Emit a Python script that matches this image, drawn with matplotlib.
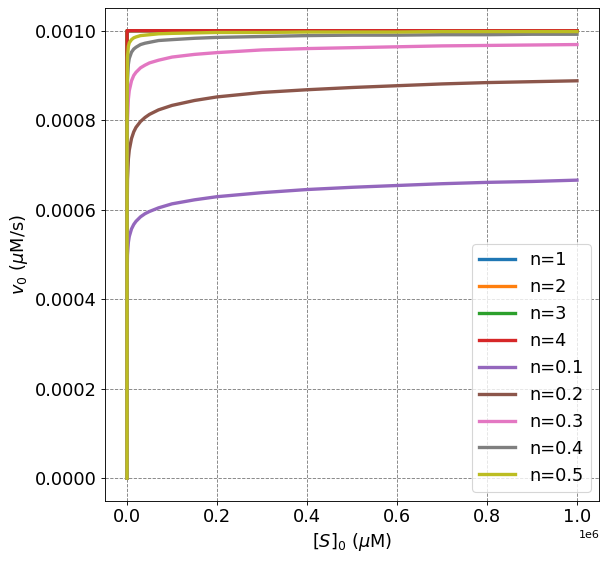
import matplotlib
matplotlib.use("Agg")
import matplotlib.pyplot as plt

# substrate concentration [S]0 in uM
s0 = [0, 1e2, 1e3, 3e3, 5e3, 1e4, 1.5e4, 2e4, 3e4, 4e4, 5e4, 7e4, 1e5, 1.5e5,
      2e5, 3e5, 4e5, 5e5, 6e5, 7e5, 8e5, 9e5, 1e6]

# initial rate v0 in uM/s for each Hill coefficient
v_n1 = [0, 0.000980, 0.000998, 0.0009993, 0.0009996, 0.0009998, 0.0009999,
        0.0009999, 0.001, 0.001, 0.001, 0.001, 0.001, 0.001, 0.001, 0.001,
        0.001, 0.001, 0.001, 0.001, 0.001, 0.001, 0.001]
v_n2 = [0, 0.0009998] + [0.001] * 21
v_n3 = [0] + [0.001] * 22
v_n4 = [0] + [0.001] * 22
v_n01 = [0, 0.000442, 0.000499, 0.000527, 0.000540, 0.000557, 0.000567,
         0.000574, 0.000584, 0.000591, 0.000596, 0.000604, 0.000613, 0.000622,
         0.000629, 0.000638, 0.000645, 0.000650, 0.000654, 0.000658, 0.000661,
         0.000663, 0.000666]
v_n02 = [0, 0.000557, 0.000666, 0.000713, 0.000733, 0.000759, 0.000774,
         0.000784, 0.000797, 0.000806, 0.000813, 0.000823, 0.000833, 0.000844,
         0.000852, 0.000862, 0.000868, 0.000873, 0.000877, 0.000881, 0.000884,
         0.000886, 0.000888]
v_n03 = [0, 0.000666, 0.000799, 0.000847, 0.000866, 0.000888, 0.000900,
         0.000907, 0.000917, 0.000923, 0.000928, 0.000934, 0.000941, 0.000947,
         0.000951, 0.000957, 0.000960, 0.000962, 0.000964, 0.000966, 0.000967,
         0.000968, 0.000969]
v_n04 = [0, 0.000759, 0.000888, 0.000925, 0.000938, 0.000952, 0.000959,
         0.000963, 0.000969, 0.000972, 0.000974, 0.000978, 0.000980, 0.000983,
         0.000985, 0.000987, 0.000989, 0.000990, 0.000990, 0.000991, 0.000991,
         0.000992, 0.000992]
v_n05 = [0, 0.000833, 0.000941, 0.000965, 0.000973, 0.000980, 0.000984,
         0.000986, 0.000989, 0.000990, 0.000991, 0.000993, 0.000994, 0.000995,
         0.000996, 0.000996, 0.000997, 0.000997, 0.000997, 0.000998, 0.000998,
         0.000998, 0.000998]

labels = ["n=1", "n=2", "n=3", "n=4", "n=0.1", "n=0.2", "n=0.3", "n=0.4", "n=0.5"]
series = [v_n1, v_n2, v_n3, v_n4, v_n01, v_n02, v_n03, v_n04, v_n05]

fig = plt.figure(figsize=(608 / 80, 561 / 80), dpi=80)
ax = fig.add_axes([0.1719, 0.1078, 0.8141, 0.8774])

for v, lab in zip(series, labels):
    ax.plot(s0, v, linewidth=3, label=lab)

ax.set_xlim(-0.05e6, 1.05e6)
ax.set_ylim(-0.00005, 0.00105)
ax.set_yticks([0, 0.0002, 0.0004, 0.0006, 0.0008, 0.001])
ax.grid(True, color="gray", linestyle="--", linewidth=0.8)
ax.tick_params(labelsize=16)
ax.set_xlabel(r"$[S]_0$ ($\mu$M)", fontsize=16)
ax.set_ylabel(r"$v_0$ ($\mu$M/s)", fontsize=16)
ax.legend(loc="lower right", fontsize=16)

fig.savefig("out.png", dpi=80)
